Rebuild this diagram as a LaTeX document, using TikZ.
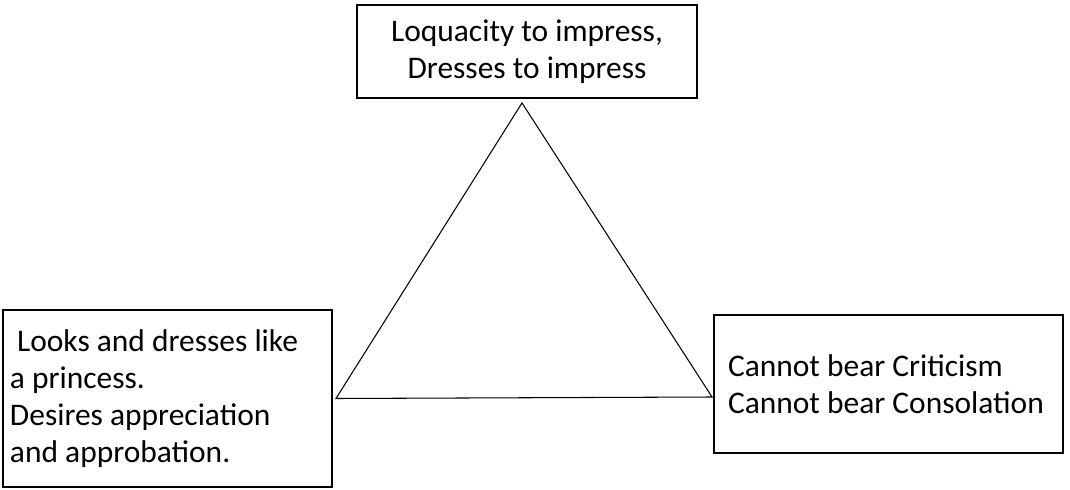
\documentclass[tikz,border=0pt]{standalone}
\usepackage{fontspec}
\setmainfont{Carlito}
\usepackage{tikz}
\usetikzlibrary{calc}

\begin{document}
\begin{tikzpicture}[font=\fontsize{17.9}{21}\selectfont,
		trait/.style={draw, line width=1.1pt, inner ysep=0pt}]
		\useasboundingbox (0,0) rectangle (21.4,9.78);
		% top box
		\node[trait, align=center, minimum width=6.8cm, minimum height=1.86cm] (impress) at (10.54,8.75) {Loquacity to impress,\\Dresses to impress};
		% left box
		\node[trait, align=flush left, inner xsep=0.14cm, text width=6.3cm, minimum height=3.54cm] (princess) at (3.35,1.81) {\ Looks and dresses like\\a princess.\\Desires appreciation\\and approbation.};
		% right box
		\node[trait, align=flush left, inner xsep=0.28cm, text width=6.42cm, minimum height=2.76cm] (criticism) at (17.77,2.1) {Cannot bear Criticism\\Cannot bear Consolation};
		% triangle
		\coordinate (apex) at ($(impress.south)+(-0.1,-0.08)$);
		\coordinate (left) at ($(princess.east)+(0.06,0)$);
		\coordinate (right) at ($(criticism.west)+(-0.02,-0.26)$);
		\draw[line width=0.6pt] (apex) -- (left) -- (right) -- cycle;
	\end{tikzpicture}
\end{document}
